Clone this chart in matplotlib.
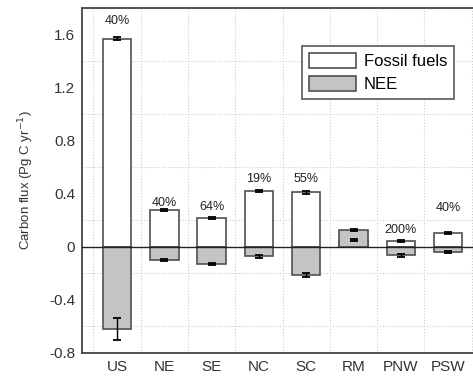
import numpy as np
import matplotlib
matplotlib.use("Agg")
import matplotlib.pyplot as plt

plt.rcParams['font.family'] = ['Liberation Sans', 'DejaVu Sans']

regions = ['US', 'NE', 'SE', 'NC', 'SC', 'RM', 'PNW', 'PSW']
fossil = [1.57, 0.28, 0.22, 0.42, 0.41, 0.05, 0.045, 0.105]
fossil_err = [0.012, 0.008, 0.008, 0.008, 0.008, 0.008, 0.01, 0.008]
nee = [-0.62, -0.10, -0.13, -0.07, -0.21, 0.13, -0.065, -0.04]
nee_err = [0.08, 0.008, 0.008, 0.012, 0.015, 0.008, 0.008, 0.008]
pct = ['40%', '40%', '64%', '19%', '55%', '', '200%', '40%']
pct_y = [1.70, 0.33, 0.30, 0.51, 0.51, 0, 0.13, 0.29]

x = np.arange(len(regions)) + 0.5
edge = '#505050'

fig = plt.figure(figsize=(4.73, 3.81), dpi=100)
ax = fig.add_axes([0.1734, 0.0735, 0.848, 0.9055])

ax.bar(x, fossil, 0.6, color='white', edgecolor=edge, linewidth=1.2,
       label='Fossil fuels', zorder=2)
ax.bar(x, nee, 0.6, color='#c4c4c4', edgecolor=edge, linewidth=1.2,
       label='NEE', zorder=3)
ax.errorbar(x, fossil, yerr=fossil_err, fmt='none', ecolor='black',
            elinewidth=1, capsize=3, capthick=1.3, zorder=4)
ax.errorbar(x, nee, yerr=nee_err, fmt='none', ecolor='black',
            elinewidth=1, capsize=3, capthick=1.3, zorder=4)

for xi, t, yi in zip(x, pct, pct_y):
    if t:
        ax.text(xi, yi, t, ha='center', va='center', fontsize=9, color='#222222')

ax.axhline(0, color='#222222', linewidth=1, zorder=5)

ax.set_xlim(-0.24, 8.24)
ax.set_ylim(-0.8, 1.8)
ax.set_yticks([-0.8, -0.4, 0, 0.4, 0.8, 1.2, 1.6])
ax.set_yticklabels(['-0.8', '-0.4', '0', '0.4', '0.8', '1.2', '1.6'])
ax.set_yticks(np.arange(-0.8, 1.81, 0.2), minor=True)
ax.set_xticks(x)
ax.set_xticklabels(regions)
ax.set_xticks(np.arange(0, 9), minor=True)
ax.tick_params(axis='both', which='both', length=0, labelsize=11, colors='#333333', pad=5)
ax.grid(True, which='minor', color='#cccccc', linestyle=':', linewidth=0.8, zorder=0)
ax.set_axisbelow(True)

for s in ['top', 'bottom', 'left', 'right']:
    ax.spines[s].set_color('#444444')
    ax.spines[s].set_linewidth(1.3)

ax.set_ylabel('Carbon flux (Pg C yr$^{-1}$)', fontsize=9.5, color='#333333', labelpad=9)

leg = ax.legend(loc='upper left', bbox_to_anchor=(0.549, 0.89), fontsize=12,
                handlelength=2.8, handleheight=1.0, handletextpad=0.5,
                fancybox=False, edgecolor='#666666', framealpha=1,
                borderpad=0.4, labelspacing=0.45, borderaxespad=0)
leg.get_frame().set_linewidth(1.3)

fig.savefig('out.png', dpi=100)
